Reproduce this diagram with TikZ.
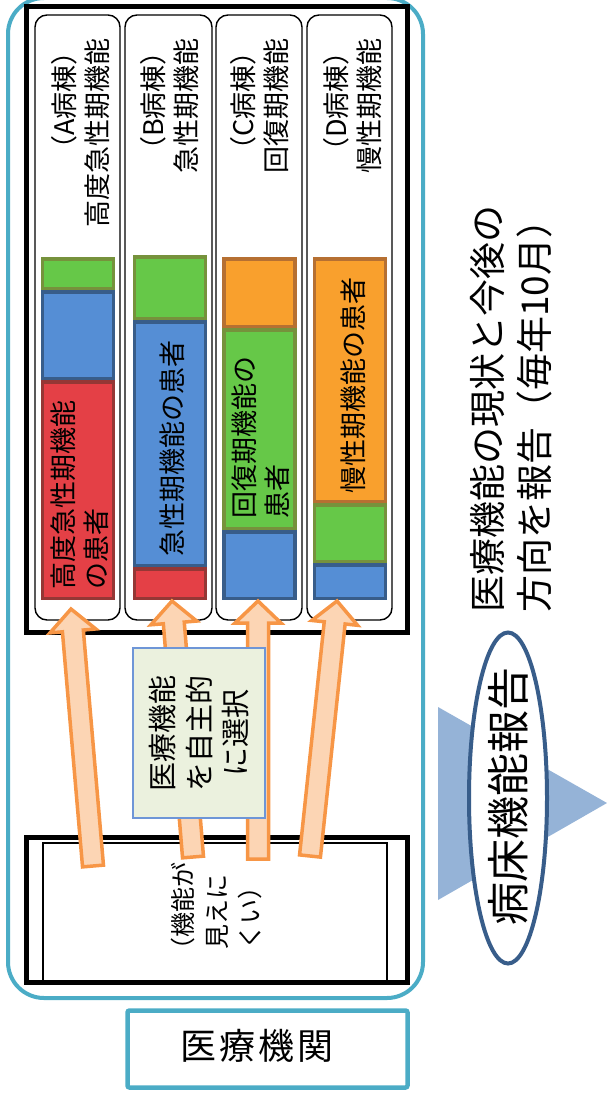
\documentclass[tikz,border=0pt]{standalone}
\usepackage{fontspec}
\setmainfont{Noto Sans CJK JP}
\usepackage{xcolor}
\definecolor{instteal}{RGB}{75,172,198}
\definecolor{redfill}{RGB}{228,64,70}
\definecolor{redline}{RGB}{149,55,53}
\definecolor{bluefill}{RGB}{85,142,213}
\definecolor{blueline}{RGB}{56,93,138}
\definecolor{greenfill}{RGB}{102,200,72}
\definecolor{greenline}{RGB}{118,146,60}
\definecolor{orangefill}{RGB}{249,160,45}
\definecolor{orangeline}{RGB}{182,112,50}
\definecolor{arrline}{RGB}{247,150,70}
\definecolor{arrfill}{RGB}{252,213,180}
\definecolor{choicefill}{RGB}{235,241,222}
\definecolor{choiceline}{RGB}{110,150,215}
\definecolor{tripale}{RGB}{149,179,215}
\usetikzlibrary{shapes.geometric, calc, positioning}

% block arrow from tail #1 to tip #2
\newcommand{\blockarrow}[2]{%
  \coordinate (#1neck) at ($(#2)!22pt!(#1)$);
  \draw[blockarr] ($(#1)!10.5pt!90:(#2)$) -- ($(#1neck)!10.5pt!90:(#2)$) -- ($(#1neck)!23pt!90:(#2)$)
    -- (#2) -- ($(#1neck)!23pt!-90:(#2)$) -- ($(#1neck)!10.5pt!-90:(#2)$) -- ($(#1)!10.5pt!-90:(#2)$) -- cycle;
}

\begin{document}
\begin{tikzpicture}[
    x=1pt, y=-1pt,
    inst/.style={draw=instteal, line width=4pt, rounded corners=36pt, minimum width=415pt, minimum height=1000pt},
    frame/.style={draw, line width=5pt, inner sep=0pt},
    ward/.style={draw, line width=1.4pt, rounded corners=12pt, minimum height=605pt},
    bar/.style={line width=3.5pt, inner sep=0pt, minimum width=71pt},
    redbar/.style={bar, draw=redline, fill=redfill},
    bluebar/.style={bar, draw=blueline, fill=bluefill},
    greenbar/.style={bar, draw=greenline, fill=greenfill},
    orangebar/.style={bar, draw=orangeline, fill=orangefill},
    vtext/.style={rotate=90, inner sep=0pt, font=\fontsize{27}{33}\selectfont},
    blockarr/.style={draw=arrline, fill=arrfill, line width=3.5pt, line join=miter},
    choice/.style={draw=choiceline, fill=choicefill, line width=1.5pt, rotate=90, align=center, minimum width=170pt, minimum height=132pt, font=\fontsize{29}{36.5}\selectfont},
    report/.style={ellipse, draw=blueline, fill=white, line width=4pt, rotate=90, minimum width=331pt, minimum height=78pt}
  ]
  \useasboundingbox (0,0) rectangle (607,1097);

  % Medical institution frame
  \node (inst) at (215.5,498) [inst] {};
  \node (wards) at (216.5,319.5) [frame, minimum width=381pt, minimum height=625pt] {};
  \node (hidden) at (216.5,909.5) [frame, minimum width=381pt, minimum height=145pt] {};
  \node (hiddenin) at (215,912.5) [draw, line width=2.5pt, minimum width=344pt, minimum height=139pt] {};

  % Wards
  \node (wardA) at (77.5,317.5) [ward, minimum width=85pt] {};
  \node (wardB) at (168.5,317.5) [ward, minimum width=87pt] {};
  \node (wardC) at (259,317.5) [ward, minimum width=86pt] {};
  \node (wardD) at (349.5,317.5) [ward, minimum width=85pt] {};

  \node (titleA) at (81,38) [vtext, anchor=east, align=right] {（A病棟）\\高度急性期機能};
  \node (titleB) at (170,38) [vtext, anchor=east, align=right] {（B病棟）\\急性期機能};
  \node (titleC) at (260,38) [vtext, anchor=east, align=right] {（C病棟）\\回復期機能};
  \node (titleD) at (353,38) [vtext, anchor=east, align=right] {（D病棟）\\慢性期機能};

  % Patient mix bars
  \node (aG) at (78,273.5) [greenbar, minimum height=29.5pt] {};
  \node (aB) at (78,335) [bluebar, minimum height=86.5pt] {};
  \node (aR) at (78,490) [redbar, minimum height=216.5pt] {};
  \node (bG) at (170,287.5) [greenbar, minimum height=61.5pt] {};
  \node (bB) at (170,443.5) [bluebar, minimum height=243.5pt] {};
  \node (bR) at (170,583.5) [redbar, minimum height=29.5pt] {};
  \node (cO) at (259.5,292.5) [orangebar, minimum height=67.5pt] {};
  \node (cG) at (259.5,429) [greenbar, minimum height=198.5pt] {};
  \node (cB) at (259.5,565) [bluebar, minimum height=66.5pt] {};
  \node (dO) at (350,380) [orangebar, minimum height=242.5pt] {};
  \node (dG) at (350,533) [greenbar, minimum height=56.5pt] {};
  \node (dB) at (350,581.5) [bluebar, minimum height=33.5pt] {};

  \node (aRtext) at (80,590) [vtext, anchor=west, align=left] {高度急性期機能\\の患者};
  \node (bBtext) at (172,448) [vtext] {急性期機能の患者};
  \node (cGtext) at (261,519) [vtext, anchor=west, align=left] {回復期機能の\\患者};
  \node (dOtext) at (353,385) [vtext] {慢性期機能の患者};

  % Text in the lower box
  \node (hiddentext) at (216.5,912) [vtext, align=center, font=\fontsize{25}{33.5}\selectfont] {（機能が\\見えに\\くい）};

  % Arrows from the institution to the wards
  \coordinate (s1) at (93,866);  \coordinate (t1) at (71,609);
  \coordinate (s2) at (193,857); \coordinate (t2) at (172,601);
  \coordinate (s3) at (258,859); \coordinate (t3) at (258,601);
  \coordinate (s4) at (310,856); \coordinate (t4) at (337,601);
  \blockarrow{s1}{t1}
  \blockarrow{s2}{t2}
  \blockarrow{s3}{t3}
  \blockarrow{s4}{t4}

  \node (choice) at (199,733) [choice] {医療機能\\を自主的\\に選択};

  % Institution label
  \node (instlabel) at (267.5,1049) [draw=instteal, line width=4.5pt, rounded corners=2pt, minimum width=280pt, minimum height=77pt] {};
  \node (instname) at (257,1046) [inner sep=0pt, font=\fontsize{36}{42}\selectfont] {医\hspace{3pt}療\hspace{3pt}機\hspace{3pt}関};

  % Report to the right
  \fill[tripale] (438,707) -- (607,803) -- (438,900) -- cycle;
  \node (report) at (508,798) [report] {};
  \node (reporttext) at (508,796) [vtext, font=\fontsize{43}{50}\selectfont] {病床機能報告};
  \node (reportnote) at (511.5,613) [vtext, anchor=west, align=left, font=\fontsize{37}{47}\selectfont] {医療機能の現状と今後の\\方向を報告（毎年10月）};

\end{tikzpicture}
\end{document}
